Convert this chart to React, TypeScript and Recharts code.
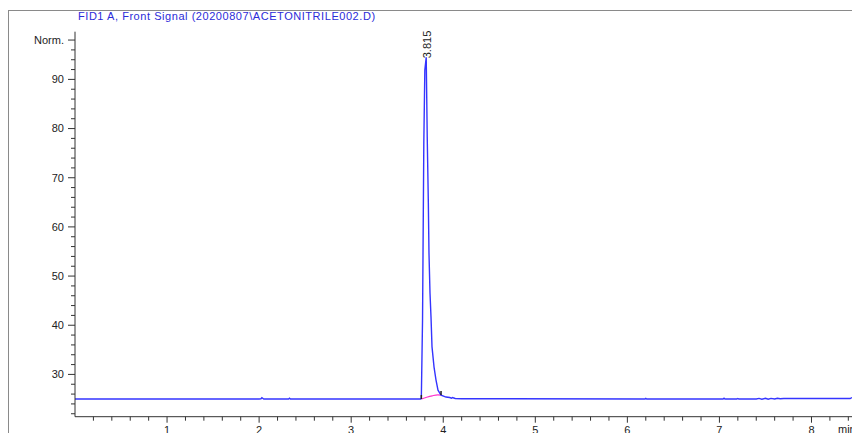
import React from 'react';
import { LineChart, Line, XAxis, YAxis, ReferenceDot } from 'recharts';

// retention time (min) and FID signal (Norm.)
const times = [
  0, 2.0, 2.02, 2.03, 2.05, 2.32, 2.33, 2.34,
  3.755, 3.762, 3.775, 3.789, 3.8, 3.815, 3.826, 3.838, 3.845, 3.856, 3.867, 3.878,
  3.9, 3.921, 3.943, 3.976, 4.03, 4.07, 4.09, 4.1, 4.13, 4.2,
  6.19, 6.2, 6.21, 7.04, 7.05, 7.06, 7.19, 7.2, 7.21,
  7.4, 7.43, 7.46, 7.5, 7.53, 7.56, 7.6, 7.63, 7.66, 7.7, 8.42, 8.44,
];
const signal = [
  25, 25, 25.05, 25.25, 25, 25, 25.15, 25,
  25, 25.2, 41, 77.2, 91.9, 94.5, 78.3, 65, 54.7, 46.6, 41.7, 35.6,
  31.5, 28.9, 26.8, 25.8, 25.4, 25.3, 25.15, 25.3, 25.1, 25.05,
  25, 25.12, 25, 25, 25.15, 25, 25, 25.1, 25,
  25, 25.12, 24.95, 25.15, 24.95, 25.12, 25, 25.15, 25.05, 25.1, 25.1, 25.3,
];

// integration baseline under the peak
const baseTimes = [3.762, 3.82, 3.88, 3.94, 3.976];
const baseValues = [25.0, 25.35, 25.65, 25.85, 25.8];

const peakTime = 3.815;
const peakLabel = '3.815';

const xTicks = Array.from({ length: 42 }, (_, i) => Math.round((i + 1) * 2) / 10);
const yTicks = Array.from({ length: 39 }, (_, i) => 22 + i * 2);
const xLabels = [1, 2, 3, 4, 5, 6, 7, 8];
const yLabels: Record<number, string> = { 30: '30', 40: '40', 50: '50', 60: '60', 70: '70', 80: '80', 90: '90', 98: 'Norm.' };

const trace = times.map((t, i) => ({ t, v: signal[i] }));
const baseline = baseTimes.map((t, i) => ({ t, v: baseValues[i] }));

const FONT = 'Arial, "Liberation Sans", sans-serif';

const XTick = (props: any) => {
  const { x, y, payload } = props;
  const major = xLabels.some((m) => Math.abs(m - payload.value) < 1e-6);
  return (
    <g>
      <line x1={x} x2={x} y1={y} y2={y + (major ? 6 : 4)} stroke="#333" />
      {major && (
        <text x={x} y={y + 17.5} textAnchor="middle" fontSize={11} fill="#222" fontFamily={FONT}>
          {Math.round(payload.value)}
        </text>
      )}
    </g>
  );
};

const YTick = (props: any) => {
  const { x, y, payload } = props;
  const label = yLabels[Math.round(payload.value)];
  return (
    <g>
      <line x1={x - (label ? 7 : 4)} x2={x} y1={y} y2={y} stroke="#333" />
      {label && (
        <text x={x - 11} y={y} dy="0.35em" textAnchor="end" fontSize={11} fill="#222" fontFamily={FONT}>
          {label}
        </text>
      )}
    </g>
  );
};

const EndMark = (props: any) => {
  const { cx, cy, index } = props;
  if (index !== 0 && index !== baseline.length - 1) return <g key={index} />;
  return <line key={index} x1={cx} x2={cx} y1={cy - 4} y2={cy} stroke="#222" strokeWidth={1.5} />;
};

export default function App() {
  return (
    <div style={{ position: 'absolute', left: 0, top: 0, width: 852, height: 433, overflow: 'hidden', background: '#fff' }}>
      <div style={{ position: 'absolute', left: 8, top: 10, width: 844, height: 423, borderLeft: '1px solid #8a8a8a', borderTop: '1px solid #8a8a8a' }} />
      <div style={{ position: 'absolute', left: 78, top: 10, fontFamily: FONT, fontSize: 11, letterSpacing: '0.55px', color: '#2b2bd9', whiteSpace: 'nowrap' }}>
        FID1 A, Front Signal (20200807\ACETONITRILE002.D)
      </div>
      <div style={{ position: 'absolute', left: 0, top: 0 }}>
        <LineChart width={852} height={433} margin={{ top: 31.7, right: 0, left: 0, bottom: 0 }}>
          <XAxis
            type="number"
            dataKey="t"
            domain={[0, 8.44]}
            ticks={xTicks}
            interval={0}
            height={16.3}
            tickSize={0}
            tickMargin={0}
            tickLine={false}
            tick={<XTick />}
            stroke="#333"
            allowDataOverflow
          />
          <YAxis
            type="number"
            dataKey="v"
            domain={[21.4, 99.7]}
            ticks={yTicks}
            interval={0}
            width={75}
            tickSize={0}
            tickMargin={0}
            tickLine={false}
            tick={<YTick />}
            stroke="#333"
            allowDataOverflow
          />
          <Line
            data={baseline}
            dataKey="v"
            type="monotone"
            stroke="#ff33cc"
            strokeWidth={1.2}
            dot={<EndMark />}
            isAnimationActive={false}
          />
          <Line
            data={trace}
            dataKey="v"
            type="linear"
            stroke="#3434ff"
            strokeWidth={1.4}
            dot={false}
            isAnimationActive={false}
          />
          <ReferenceDot
            x={peakTime}
            y={signal[times.indexOf(peakTime)]}
            r={0}
            stroke="none"
            label={(p: any) => {
              const cx = p.viewBox.x + p.viewBox.width / 2;
              const cy = p.viewBox.y + p.viewBox.height / 2;
              return (
                <text
                  x={cx + 4.5}
                  y={cy + 1}
                  transform={`rotate(-90 ${cx + 4.5} ${cy + 1})`}
                  fontSize={11}
                  fill="#222"
                  fontFamily={FONT}
                >
                  {peakLabel}
                </text>
              );
            }}
          />
        </LineChart>
      </div>
      <div style={{ position: 'absolute', left: 838, top: 423, fontFamily: FONT, fontSize: 11, color: '#222' }}>min</div>
    </div>
  );
}
